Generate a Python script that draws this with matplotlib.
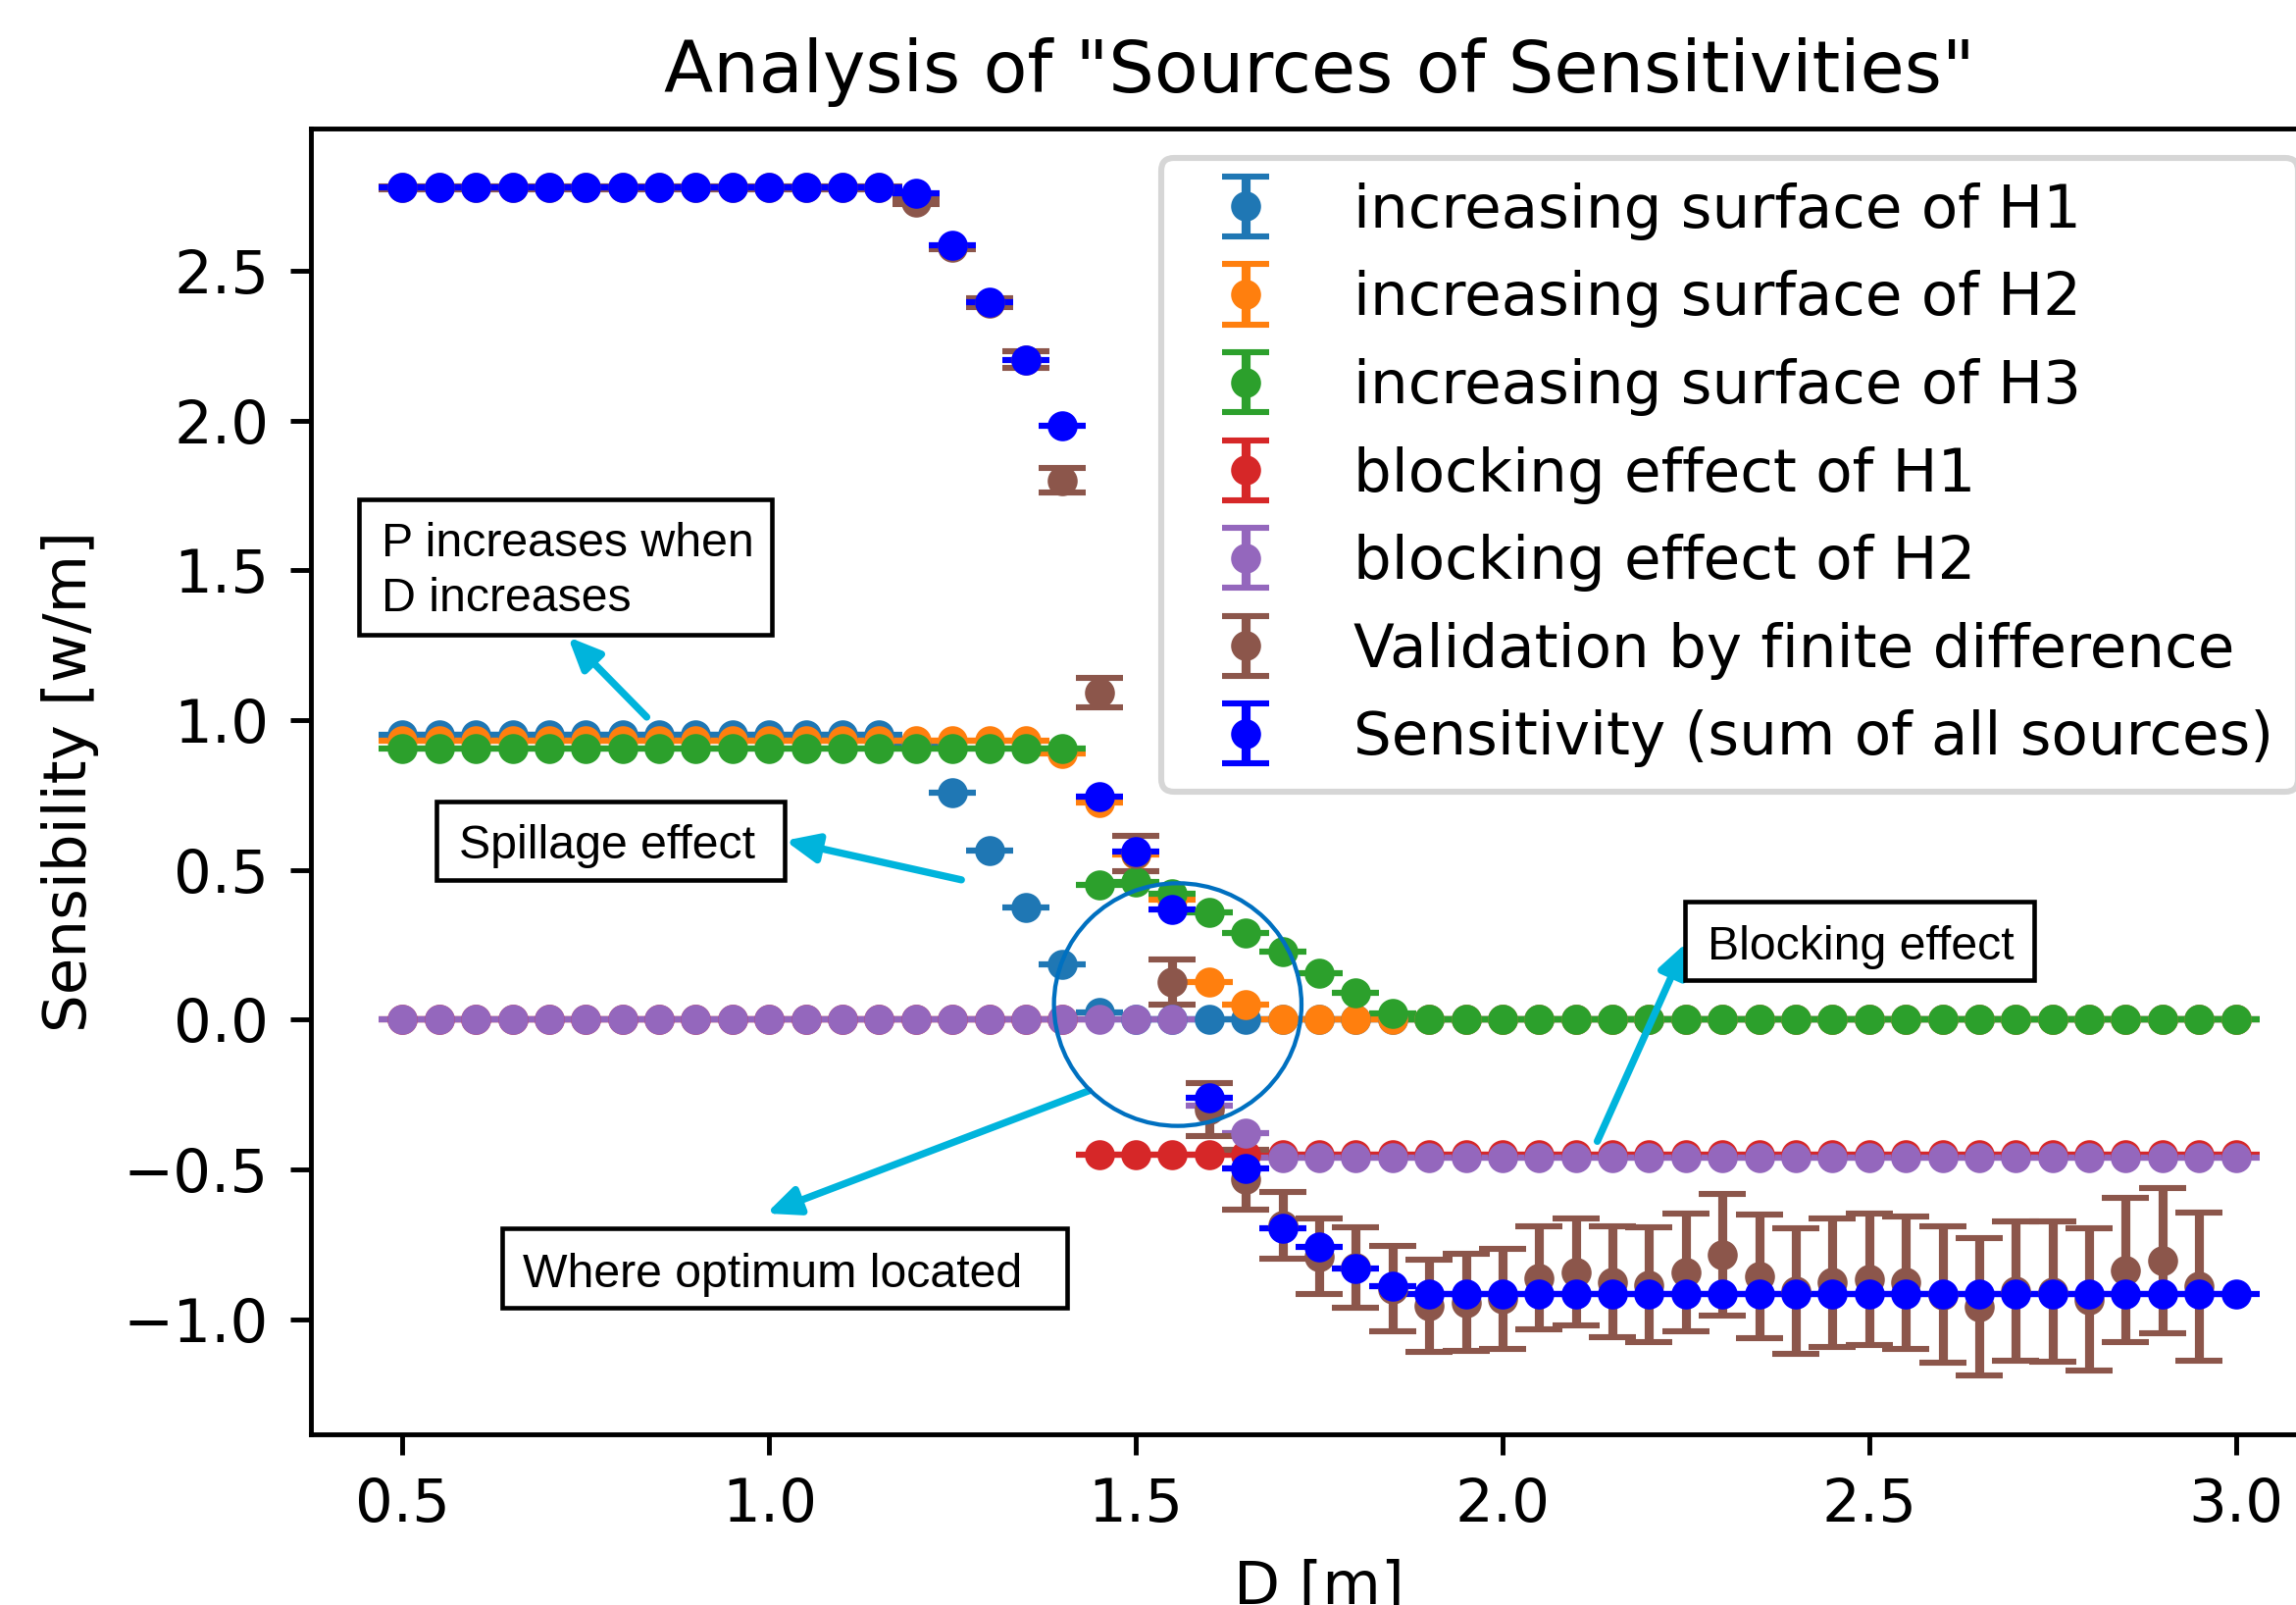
import matplotlib.pyplot as plt
from matplotlib.patches import Ellipse, Rectangle

# D values [m]
D = [0.50, 0.55, 0.60, 0.65, 0.70, 0.75, 0.80, 0.85, 0.90, 0.95,
     1.00, 1.05, 1.10, 1.15, 1.20, 1.25, 1.30, 1.35, 1.40, 1.45,
     1.50, 1.55, 1.60, 1.65, 1.70, 1.75, 1.80, 1.85, 1.90, 1.95,
     2.00, 2.05, 2.10, 2.15, 2.20, 2.25, 2.30, 2.35, 2.40, 2.45,
     2.50, 2.55, 2.60, 2.65, 2.70, 2.75, 2.80, 2.85, 2.90, 2.95,
     3.00]

# sources of sensitivity
surf_h1 = [0.95, 0.95, 0.95, 0.95, 0.95, 0.95, 0.95, 0.95, 0.95, 0.95,
           0.95, 0.95, 0.95, 0.95, 0.92, 0.757, 0.563, 0.374, 0.185, 0.025,
           0.0, 0.0, 0.0, 0.0, 0.0, 0.0, 0.0, 0.0, 0.0, 0.0,
           0.0, 0.0, 0.0, 0.0, 0.0, 0.0, 0.0, 0.0, 0.0, 0.0,
           0.0, 0.0, 0.0, 0.0, 0.0, 0.0, 0.0, 0.0, 0.0, 0.0,
           0.0]
surf_h2 = [0.93, 0.93, 0.93, 0.93, 0.93, 0.93, 0.93, 0.93, 0.93, 0.93,
           0.93, 0.93, 0.93, 0.93, 0.93, 0.93, 0.93, 0.93, 0.89, 0.725,
           0.55, 0.40, 0.124, 0.051, 0.0, 0.0, 0.0, 0.0, 0.0, 0.0,
           0.0, 0.0, 0.0, 0.0, 0.0, 0.0, 0.0, 0.0, 0.0, 0.0,
           0.0, 0.0, 0.0, 0.0, 0.0, 0.0, 0.0, 0.0, 0.0, 0.0,
           0.0]
surf_h3 = [0.905, 0.905, 0.905, 0.905, 0.905, 0.905, 0.905, 0.905, 0.905, 0.905,
           0.905, 0.905, 0.905, 0.905, 0.905, 0.905, 0.905, 0.905, 0.905, 0.451,
           0.458, 0.42, 0.358, 0.29, 0.227, 0.154, 0.089, 0.022, 0.0, 0.0,
           0.0, 0.0, 0.0, 0.0, 0.0, 0.0, 0.0, 0.0, 0.0, 0.0,
           0.0, 0.0, 0.0, 0.0, 0.0, 0.0, 0.0, 0.0, 0.0, 0.0,
           0.0]
block_h1 = [0.0, 0.0, 0.0, 0.0, 0.0, 0.0, 0.0, 0.0, 0.0, 0.0,
            0.0, 0.0, 0.0, 0.0, 0.0, 0.0, 0.0, 0.0, 0.0, -0.452,
            -0.452, -0.452, -0.452, -0.452, -0.452, -0.452, -0.452, -0.452, -0.452, -0.452,
            -0.452, -0.452, -0.452, -0.452, -0.452, -0.452, -0.452, -0.452, -0.452, -0.452,
            -0.452, -0.452, -0.452, -0.452, -0.452, -0.452, -0.452, -0.452, -0.452, -0.452,
            -0.452]
block_h2 = [0.0, 0.0, 0.0, 0.0, 0.0, 0.0, 0.0, 0.0, 0.0, 0.0,
            0.0, 0.0, 0.0, 0.0, 0.0, 0.0, 0.0, 0.0, 0.0, 0.0,
            0.0, 0.0, -0.288, -0.379, -0.461, -0.461, -0.461, -0.461, -0.461, -0.461,
            -0.461, -0.461, -0.461, -0.461, -0.461, -0.461, -0.461, -0.461, -0.461, -0.461,
            -0.461, -0.461, -0.461, -0.461, -0.461, -0.461, -0.461, -0.461, -0.461, -0.461,
            -0.461]

# finite difference validation (no value at the last D)
fd = [2.777, 2.777, 2.777, 2.777, 2.777, 2.777, 2.777, 2.777, 2.777, 2.777,
      2.777, 2.777, 2.777, 2.777, 2.73, 2.578, 2.393, 2.203, 1.80, 1.092,
      0.555, 0.126, -0.30, -0.534, -0.686, -0.79, -0.828, -0.898, -0.955, -0.944,
      -0.932, -0.862, -0.843, -0.875, -0.885, -0.845, -0.785, -0.858, -0.907, -0.878,
      -0.867, -0.878, -0.918, -0.958, -0.906, -0.908, -0.934, -0.837, -0.805, -0.891]
fd_err = [0.004, 0.004, 0.004, 0.004, 0.004, 0.004, 0.004, 0.004, 0.004, 0.004,
          0.004, 0.004, 0.004, 0.004, 0.008, 0.005, 0.015, 0.029, 0.04, 0.048,
          0.06, 0.075, 0.088, 0.099, 0.112, 0.126, 0.134, 0.144, 0.154, 0.161,
          0.166, 0.172, 0.179, 0.186, 0.191, 0.196, 0.202, 0.206, 0.21, 0.215,
          0.218, 0.222, 0.227, 0.229, 0.233, 0.235, 0.239, 0.241, 0.243, 0.246]

# total sensitivity
total = [2.777, 2.777, 2.777, 2.777, 2.777, 2.777, 2.777, 2.777, 2.777, 2.777,
         2.777, 2.777, 2.777, 2.777, 2.757, 2.584, 2.394, 2.201, 1.982, 0.744,
         0.56, 0.367, -0.262, -0.496, -0.695, -0.76, -0.83, -0.891, -0.916, -0.916,
         -0.916, -0.916, -0.916, -0.916, -0.916, -0.916, -0.916, -0.916, -0.916, -0.916,
         -0.916, -0.916, -0.916, -0.916, -0.916, -0.916, -0.916, -0.916, -0.916, -0.916,
         -0.916]

x_ticks = [0.5, 1.0, 1.5, 2.0, 2.5, 3.0]
y_ticks = [-1.0, -0.5, 0.0, 0.5, 1.0, 1.5, 2.0, 2.5]

DPI = 440
fig = plt.figure(figsize=(2341 / DPI, 1636 / DPI), dpi=DPI)
# axes runs past the right edge, like the cropped original
ax = fig.add_axes([0.1354, 0.1064, 0.8783, 0.8136])

sources = [
    (surf_h1, "increasing surface of H1", "C0"),
    (surf_h2, "increasing surface of H2", "C1"),
    (surf_h3, "increasing surface of H3", "C2"),
    (block_h1, "blocking effect of H1", "C3"),
    (block_h2, "blocking effect of H2", "C4"),
]
for vals, label, color in sources:
    ax.errorbar(D, vals, yerr=0, fmt="o", ms=4, capsize=4, color=color, label=label)

ax.errorbar(D[:len(fd)], fd, yerr=fd_err, fmt="o", ms=4, capsize=4,
            color="C5", label="Validation by finite difference")
ax.errorbar(D, total, yerr=0, fmt="o", ms=4, capsize=4,
            color="blue", label="Sensitivity (sum of all sources)")

ax.set_xlim(0.375, 3.125)
ax.set_ylim(-1.384, 2.975)
ax.set_xticks(x_ticks)
ax.set_yticks(y_ticks)
ax.set_xlabel("D [m]")
ax.set_ylabel("Sensibility [w/m]")
ax.set_title('Analysis of "Sources of Sensitivities"')
ax.legend(loc="upper right")

# ---------------------------
# hand-made annotations
# ---------------------------
cyan = "#00B4DC"
arrow = dict(arrowstyle="-|>,head_length=0.5,head_width=0.22", color=cyan,
             lw=1.2, mutation_scale=9, shrinkA=0, shrinkB=0)
note_font = ["Liberation Sans", "DejaVu Sans"]


def note_box(x0, y0, x1, y1):
    ax.add_patch(Rectangle((x0, y0), x1 - x0, y1 - y0, facecolor="white",
                           edgecolor="black", lw=0.75, zorder=5))


note_box(0.4405, 1.2843, 1.0039, 1.7381)
ax.text(0.4711, 1.5472, "P increases when", fontsize=7.9, family=note_font,
        va="baseline", zorder=6)
ax.text(0.4711, 1.3643, "D increases", fontsize=7.9, family=note_font,
        va="baseline", zorder=6)
ax.annotate("", xy=(0.7256, 1.2774), xytext=(0.833, 1.010), arrowprops=arrow)

note_box(0.5466, 0.4666, 1.0216, 0.7289)
ax.text(0.5769, 0.5374, "Spillage effect", fontsize=7.9, family=note_font,
        va="baseline", zorder=6)
ax.annotate("", xy=(1.0216, 0.5977), xytext=(1.2621, 0.4666), arrowprops=arrow)

note_box(0.6364, -0.9630, 1.4059, -0.6974)
ax.text(0.6639, -0.8921, "Where optimum located", fontsize=7.9, family=note_font,
        va="baseline", zorder=6)
ax.annotate("", xy=(0.996, -0.647), xytext=(1.436, -0.2374), arrowprops=arrow)

note_box(2.2494, 0.1308, 2.7249, 0.3931)
ax.text(2.2792, 0.2010, "Blocking effect", fontsize=7.9, family=note_font,
        va="baseline", zorder=6)
ax.annotate("", xy=(2.2512, 0.2577), xytext=(2.1293, -0.4062), arrowprops=arrow)

ax.add_patch(Ellipse((1.5571, 0.0502), 0.3375, 0.810, fill=False,
                     edgecolor="#0070C0", lw=0.7, zorder=4))

fig.savefig("out.png", dpi=DPI)
